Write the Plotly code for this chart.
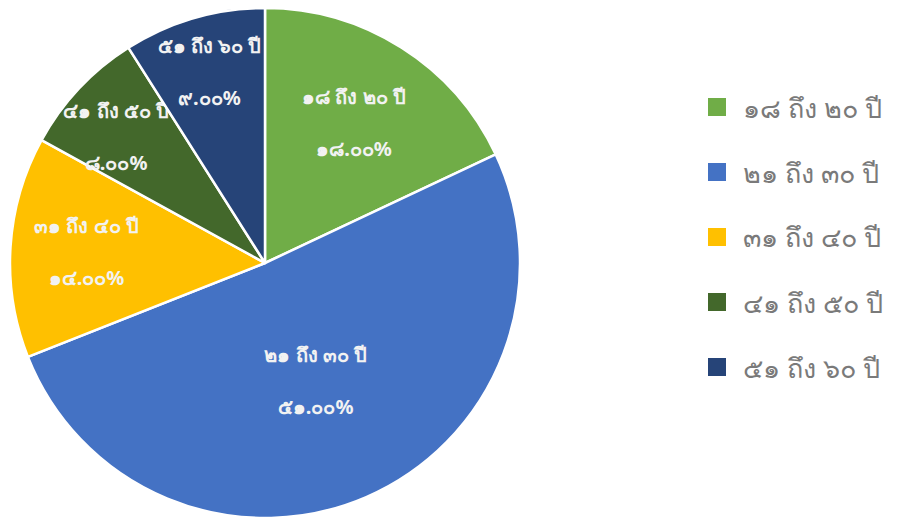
import plotly.graph_objects as go

# Age groups (Thai numerals) and their share of respondents (%)
labels = ["๑๘ ถึง ๒๐ ปี", "๒๑ ถึง ๓๐ ปี", "๓๑ ถึง ๔๐ ปี", "๔๑ ถึง ๕๐ ปี", "๕๑ ถึง ๖๐ ปี"]
values = [18, 51, 14, 8, 9]
colors = ["#70AD47", "#4472C4", "#FFC000", "#43682B", "#264478"]

THAI_DIGITS = str.maketrans("0123456789", "๐๑๒๓๔๕๖๗๘๙")


def thai_pct(v, total):
    return f"{100 * v / total:.2f}".translate(THAI_DIGITS) + "%"


total = sum(values)
slice_text = [f"{lab}<br><br>{thai_pct(v, total)}" for lab, v in zip(labels, values)]
# a leading empty line nudges the narrow 41-50 label down, away from the rim
slice_text[3] = " <br>" + slice_text[3]

fig = go.Figure()
fig.add_trace(go.Pie(
    labels=labels,
    values=values,
    text=slice_text,
    textinfo="text",
    textposition="inside",
    insidetextorientation="horizontal",
    sort=False,
    direction="clockwise",
    rotation=0,
    marker=dict(colors=colors, line=dict(color="white", width=2.5)),
    textfont=dict(size=20, color="#F2F2F2", family="Noto Sans, sans-serif", weight="bold"),
    domain=dict(x=[10 / 900, 520 / 900], y=[1 / 519, 511 / 519]),
    showlegend=False,
    hoverinfo="label+percent",
))

# Legend drawn as colour swatches with labels beside them
for i, (lab, col) in enumerate(zip(labels, colors)):
    yc = 107 + i * 65
    fig.add_shape(type="rect", xref="paper", yref="paper",
                  x0=708 / 900, x1=726 / 900,
                  y0=1 - (yc + 9) / 519, y1=1 - (yc - 9) / 519,
                  fillcolor=col, line=dict(width=0))
    fig.add_annotation(xref="paper", yref="paper", x=741 / 900, y=1 - yc / 519,
                       text=lab, showarrow=False, xanchor="left", yanchor="middle",
                       font=dict(size=27, color="#7A7A7A", family="Noto Sans, sans-serif"))

fig.update_layout(
    width=900, height=519,
    margin=dict(l=0, r=0, t=0, b=0),
    paper_bgcolor="white", plot_bgcolor="white",
    uniformtext=dict(minsize=20, mode="show"),
)

fig.write_html("out.html")
